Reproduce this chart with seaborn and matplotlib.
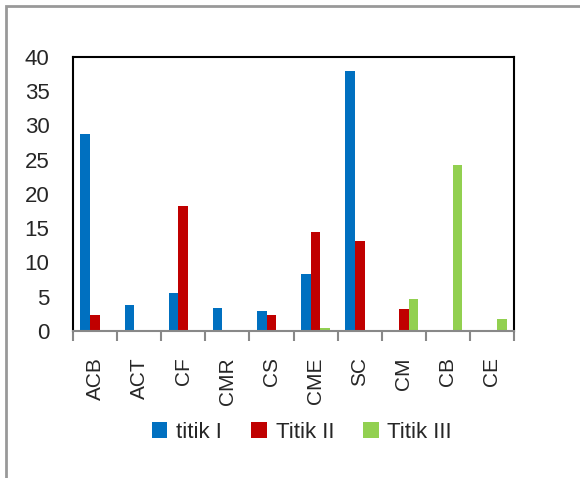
import matplotlib
matplotlib.use("Agg")
import matplotlib.pyplot as plt
from matplotlib.patches import Rectangle
import seaborn as sns
import pandas as pd

categories = ["ACB", "ACT", "CF", "CMR", "CS", "CME", "SC", "CM", "CB", "CE"]
series_names = ["titik I", "Titik II", "Titik III"]
titik_1 = [28.8, 3.8, 5.6, 3.3, 2.9, 8.3, 38.0, 0.0, 0.0, 0.0]
titik_2 = [2.4, 0.0, 18.3, 0.2, 2.3, 14.4, 13.2, 3.2, 0.0, 0.0]
titik_3 = [0.2, 0.0, 0.0, 0.0, 0.0, 0.5, 0.0, 4.6, 24.2, 1.7]
y_ticks = [0, 5, 10, 15, 20, 25, 30, 35, 40]
colors = ["#0070C0", "#C00000", "#92D050"]

rows = []
for name, vals in zip(series_names, [titik_1, titik_2, titik_3]):
    for c, v in zip(categories, vals):
        rows.append({"cat": c, "series": name, "value": v})
df = pd.DataFrame(rows)

sns.set_theme(style="white")
plt.rcParams["font.family"] = ["Liberation Sans", "DejaVu Sans"]

fig = plt.figure(figsize=(5.8, 4.78), dpi=100)
ax = fig.add_axes([73/580, 1-331/478, (514-73)/580, (331-57)/478])

sns.barplot(data=df, x="cat", y="value", hue="series", order=categories,
            hue_order=series_names, palette=colors, width=0.66,
            linewidth=0, saturation=1, ax=ax, legend=True, errorbar=None)

ax.set_xlim(-0.5, len(categories) - 0.5)
ax.set_ylim(0, 40)
ax.set_yticks(y_ticks)
ax.set_yticklabels([str(t) for t in y_ticks], fontsize=16)
ax.tick_params(axis="y", length=0, pad=17)
ax.set_xticks(range(len(categories)))
ax.set_xticklabels(categories, rotation=90, fontsize=15)
ax.tick_params(axis="x", which="major", length=0, pad=19)
ax.set_xticks([i - 0.5 for i in range(len(categories) + 1)], minor=True)
ax.tick_params(axis="x", which="minor", length=7, width=1.5, color="#888888", bottom=True)
ax.set_xlabel("")
ax.set_ylabel("")

for s in ["left", "top", "right"]:
    ax.spines[s].set_color("black")
    ax.spines[s].set_linewidth(1.5)
ax.spines["bottom"].set_color("#888888")
ax.spines["bottom"].set_linewidth(1.5)

handles, labels = ax.get_legend_handles_labels()
ax.get_legend().remove()
fig.legend(handles, labels, loc="center", bbox_to_anchor=(302/580, 1-432/478),
           ncol=3, frameon=False, fontsize=16, handlelength=0.7, handleheight=0.7,
           handletextpad=0.4, columnspacing=1.3)

fig.add_artist(Rectangle((6/580, -0.1), 1.2, (1 - 6/478) + 0.1, transform=fig.transFigure,
                         fill=False, edgecolor="#999999", linewidth=2, clip_on=False))

fig.savefig("out.png", dpi=100)
